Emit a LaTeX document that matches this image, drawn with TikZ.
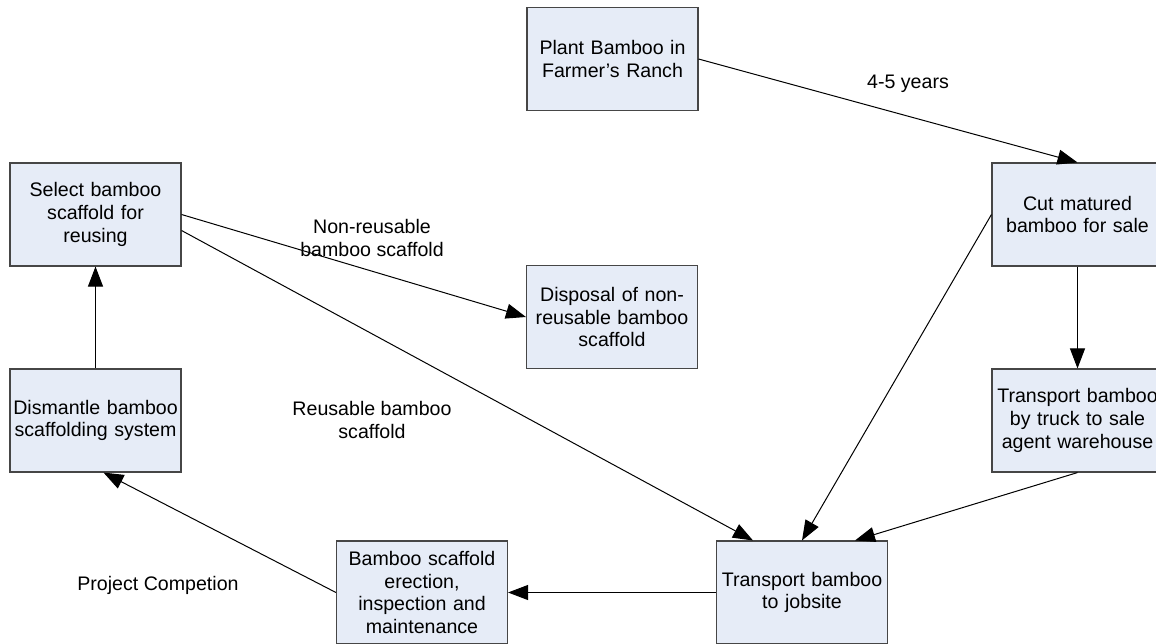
\documentclass[tikz,border=0pt]{standalone}
\usepackage{fontspec}
\setmainfont{Liberation Sans}
\usetikzlibrary{arrows.meta,calc}
\definecolor{boxfill}{RGB}{230,236,247}
\definecolor{boxline}{RGB}{70,70,70}
\tikzset{
  stepbox/.style={draw=boxline,line width=1.1pt,fill=boxfill,minimum width=171pt,
    minimum height=103pt,text width=165pt,align=center,inner sep=2pt,
    font=\fontsize{19.6}{22.8}\selectfont},
  lbl/.style={align=center,font=\fontsize{19.6}{22.8}\selectfont},
  flow/.style={line width=1pt,-{Triangle[length=20pt,width=15pt]}}
}
\begin{document}
\begin{tikzpicture}[x=1pt,y=-1pt]
    \useasboundingbox (0,0) rectangle (1156,643);
    % boxes
    \node[stepbox] (plant) at (612.5,59) {Plant Bamboo in\\Farmer's Ranch};
    \node[stepbox] (cut) at (1077.5,214.5) {Cut matured\\bamboo for sale};
    \node[stepbox] (truck) at (1077.5,420.5) {Transport bamboo\\by truck to sale\\agent warehouse};
    \node[stepbox] (jobsite) at (802,592.5) {Transport bamboo\\to jobsite};
    \node[stepbox] (erect) at (422,592.5) {Bamboo scaffold\\erection,\\inspection and\\maintenance};
    \node[stepbox] (dismantle) at (95.5,420.5) {Dismantle bamboo\\scaffolding system};
    \node[stepbox] (select) at (95.5,214.5) {Select bamboo\\scaffold for\\reusing};
    \node[stepbox] (disposal) at (612,317) {Disposal of non-\\reusable bamboo\\scaffold};
    % labels
    \node[lbl] (years) at (908,84) {4-5 years};
    \node[lbl] (nonreuse) at (372,238) {Non-reusable\\bamboo scaffold};
    \node[lbl] (reuse) at (372,420) {Reusable bamboo\\scaffold};
    \node[lbl] (finish) at (158,585) {Project Competion};
    % connectors
    \draw[flow] (plant.east) -- (cut.north);
    \draw[flow] (cut.south) -- (truck.north);
    \draw[flow] (cut.west) -- (jobsite.north);
    \draw[flow] (truck.south) -- ([xshift=53pt]jobsite.north);
    \draw[flow] ([yshift=-16pt]select.east) -- ([xshift=-49pt]jobsite.north);
    \draw[flow] (select.east) -- (disposal.west);
    \draw[flow] (jobsite.west) -- (erect.east);
    \draw[flow] (erect.west) -- ([xshift=8pt]dismantle.south);
    \draw[flow] (dismantle.north) -- (select.south);
\end{tikzpicture}
\end{document}
